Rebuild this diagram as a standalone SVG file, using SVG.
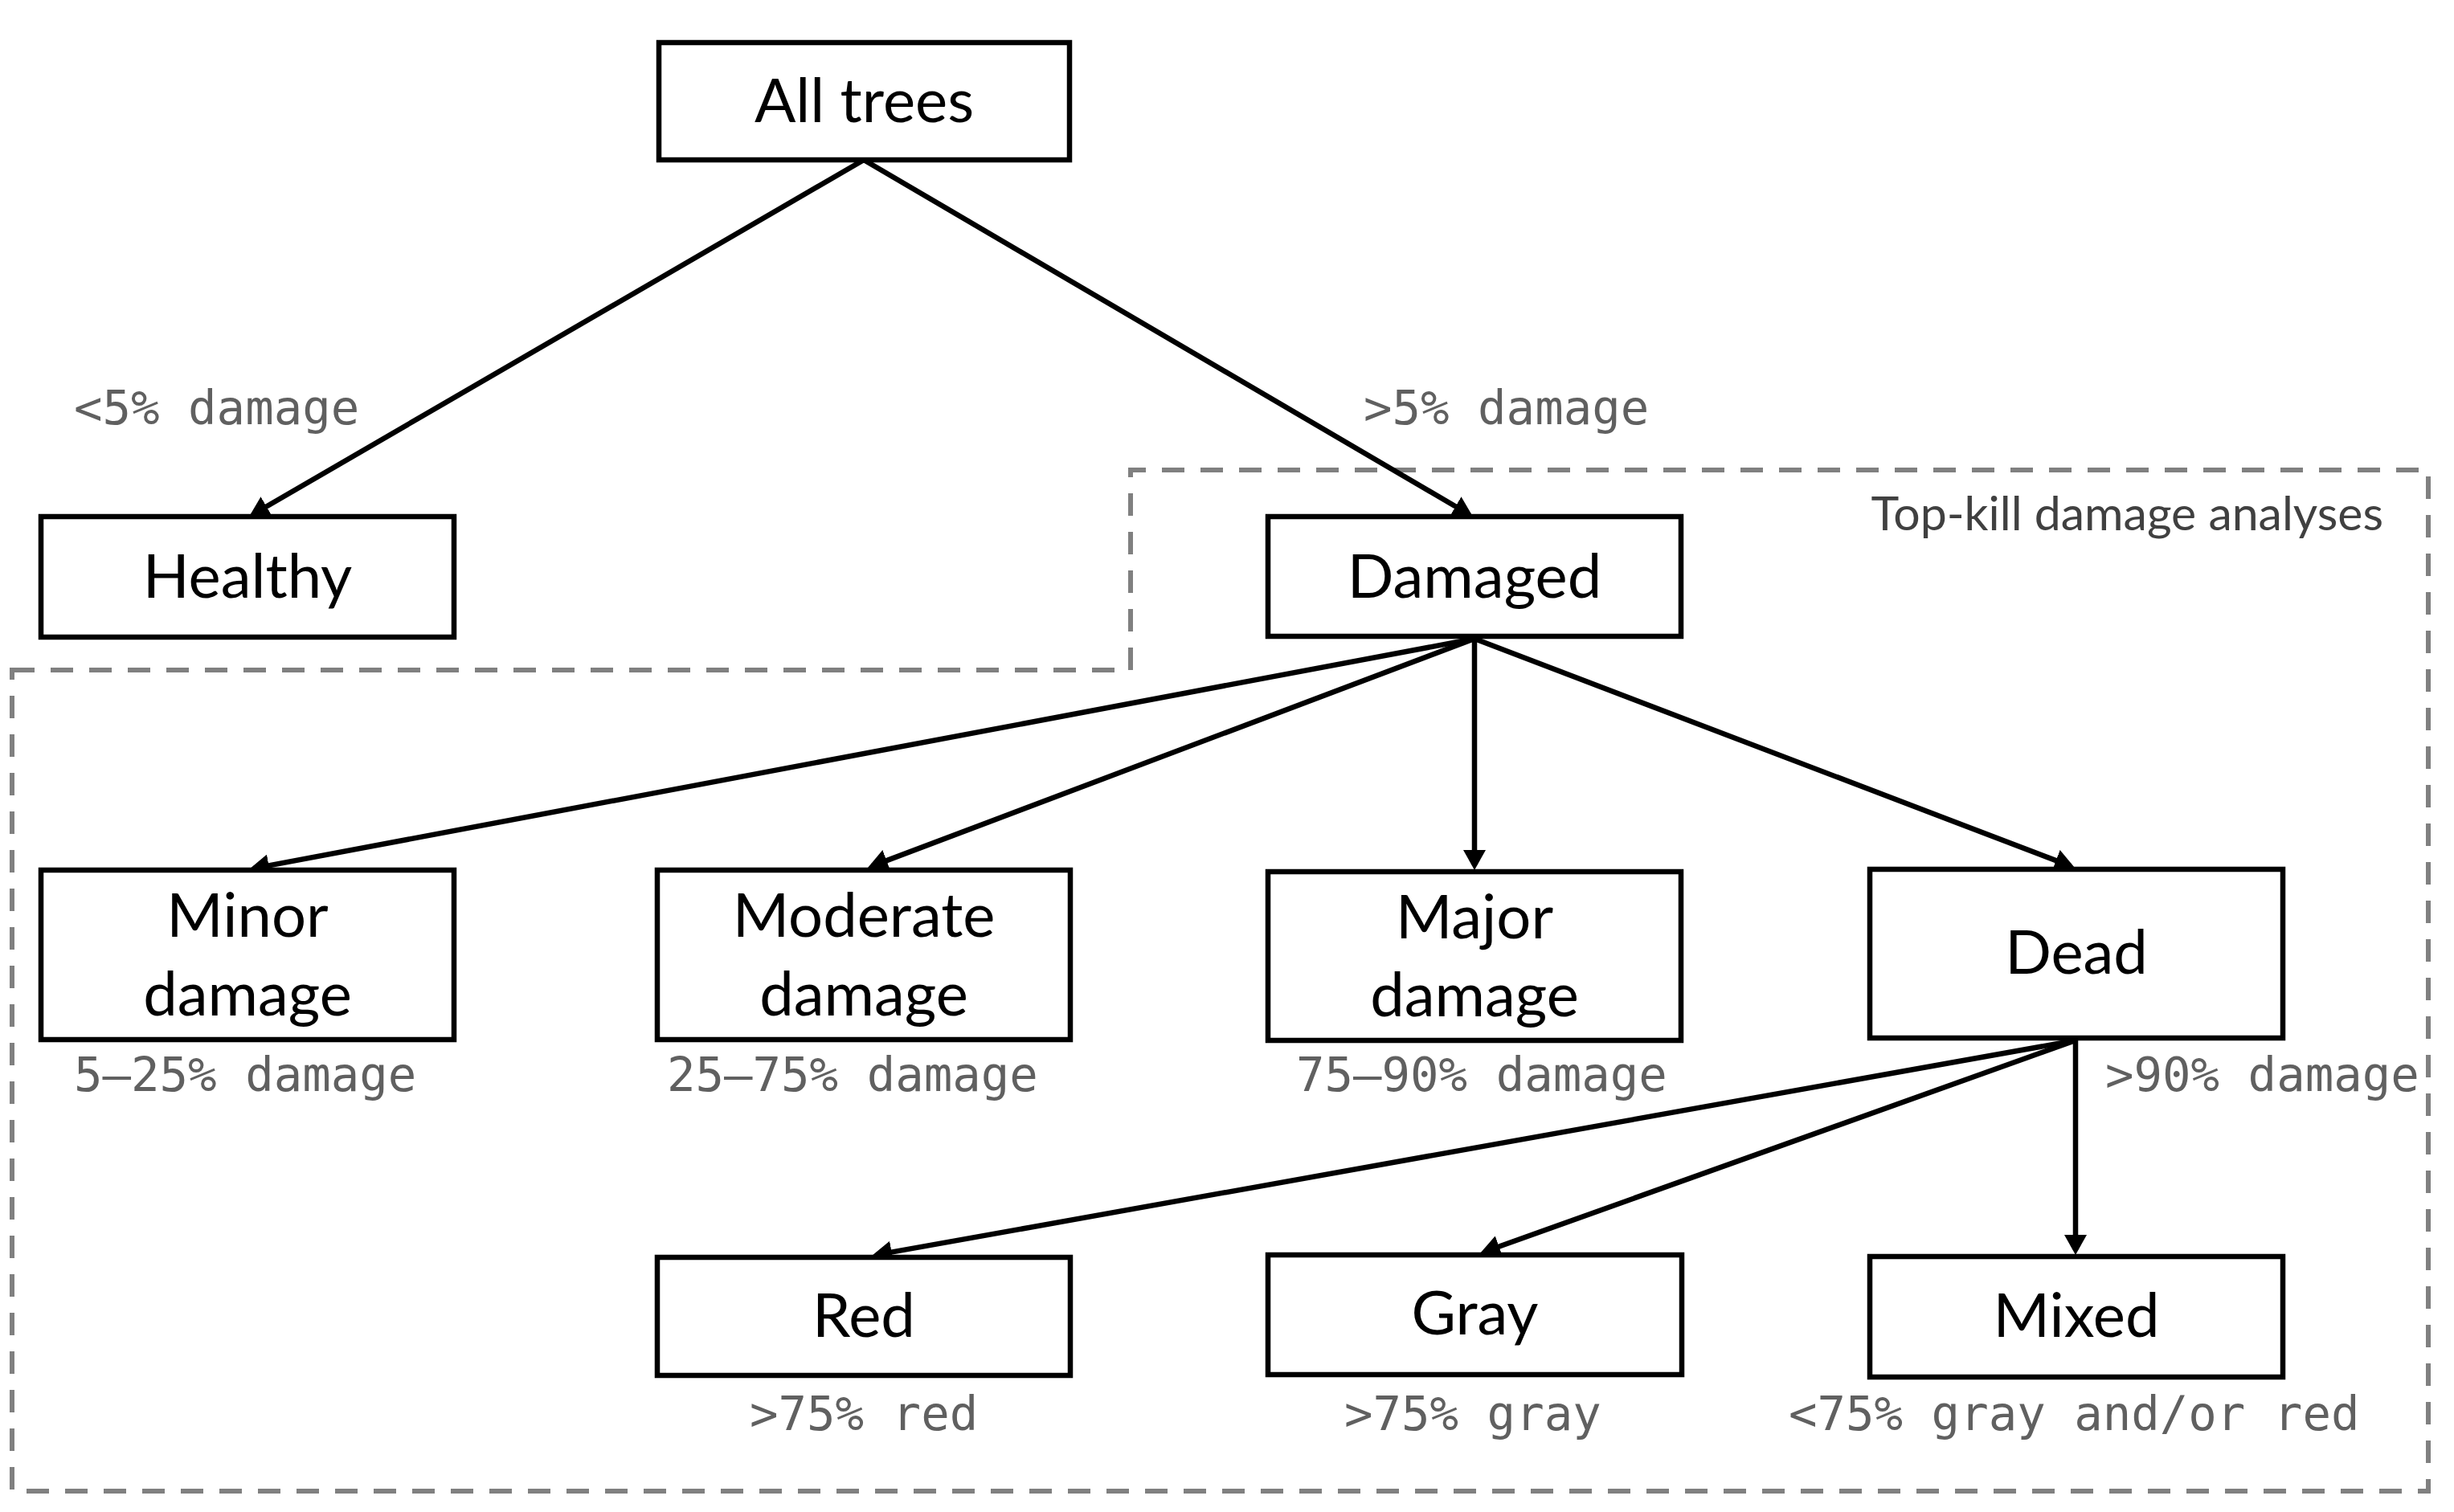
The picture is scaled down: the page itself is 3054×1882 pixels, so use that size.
<svg xmlns="http://www.w3.org/2000/svg" width="3054" height="1882" viewBox="0 0 3054 1882">
  <style>
    .box { fill: #ffffff; stroke: #000000; stroke-width: 6.5; }
    .lbl { font-family: Lato, "Open Sans", sans-serif; font-size: 76px; fill: #000000; text-anchor: middle; }
    .cond { font-family: "DejaVu Sans Mono", "Liberation Mono", monospace; font-size: 59px; fill: #606060; }
    .conn { stroke: #000000; stroke-width: 6.5; fill: none; marker-end: url(#arrow); }
    .region { fill: none; stroke: #808080; stroke-width: 6; stroke-dasharray: 28 20; }
    .title { font-family: Lato, "Open Sans", sans-serif; font-size: 59px; fill: #404040; text-anchor: end; }
  </style>
  <defs>
    <marker id="arrow" markerUnits="userSpaceOnUse" markerWidth="26" markerHeight="28" refX="19" refY="14" orient="auto">
      <path d="M0,0 L25,14 L0,28 Z" fill="#000000"/>
    </marker>
  </defs>
  <rect width="3054" height="1882" fill="#ffffff"/>

  <g id="region">
    <path class="region" d="M15,834 L1407,834 L1407,585 L3022,585 L3022,1856 L15,1856 Z"/>
    <text class="title" x="2966" y="660">Top-kill damage analyses</text>
  </g>

  <g id="connectors">
    <line class="conn" x1="1075" y1="199" x2="315.2" y2="640"/>
    <line class="conn" x1="1075" y1="199" x2="1827.8" y2="640"/>
    <line class="conn" x1="1835" y1="795" x2="315.9" y2="1080.9"/>
    <line class="conn" x1="1835" y1="795" x2="1085.6" y2="1077.9"/>
    <line class="conn" x1="1835" y1="795" x2="1835" y2="1077"/>
    <line class="conn" x1="1835" y1="795" x2="2576.4" y2="1077.9"/>
    <line class="conn" x1="2583" y1="1295" x2="1090.9" y2="1561.9"/>
    <line class="conn" x1="2583" y1="1295" x2="1847.6" y2="1558"/>
    <line class="conn" x1="2583" y1="1295" x2="2583" y2="1556"/>
  </g>

  <g id="labels">
    <text class="cond" x="92" y="528">&lt;5% damage</text>
    <text class="cond" x="1697" y="528">&gt;5% damage</text>
    <text class="cond" x="92" y="1358">5–25% damage</text>
    <text class="cond" x="830" y="1358">25–75% damage</text>
    <text class="cond" x="1613" y="1358">75–90% damage</text>
    <text class="cond" x="2620" y="1358">&gt;90% damage</text>
    <text class="cond" x="933" y="1780">&gt;75% red</text>
    <text class="cond" x="1673" y="1780">&gt;75% gray</text>
    <text class="cond" x="2226" y="1780">&lt;75% gray and/or red</text>
  </g>

  <g id="all-trees">
    <rect class="box" x="820" y="53" width="511" height="146"/>
    <text class="lbl" x="1075.5" y="152">All trees</text>
  </g>
  <g id="healthy">
    <rect class="box" x="51" y="643" width="514" height="150"/>
    <text class="lbl" x="308" y="744">Healthy</text>
  </g>
  <g id="damaged">
    <rect class="box" x="1578" y="643" width="514" height="149"/>
    <text class="lbl" x="1835" y="744">Damaged</text>
  </g>
  <g id="minor">
    <rect class="box" x="51" y="1083" width="514" height="211"/>
    <text class="lbl" x="308" y="1166">Minor</text>
    <text class="lbl" x="308" y="1264">damage</text>
  </g>
  <g id="moderate">
    <rect class="box" x="818" y="1083" width="514" height="211"/>
    <text class="lbl" x="1075" y="1166">Moderate</text>
    <text class="lbl" x="1075" y="1264">damage</text>
  </g>
  <g id="major">
    <rect class="box" x="1578" y="1085" width="514" height="210"/>
    <text class="lbl" x="1835" y="1168">Major</text>
    <text class="lbl" x="1835" y="1265">damage</text>
  </g>
  <g id="dead">
    <rect class="box" x="2327" y="1082" width="514" height="210"/>
    <text class="lbl" x="2584" y="1212">Dead</text>
  </g>
  <g id="red">
    <rect class="box" x="818" y="1565" width="514" height="147"/>
    <text class="lbl" x="1075" y="1664">Red</text>
  </g>
  <g id="gray">
    <rect class="box" x="1578" y="1562" width="515" height="149"/>
    <text class="lbl" x="1835.5" y="1661">Gray</text>
  </g>
  <g id="mixed">
    <rect class="box" x="2327" y="1564" width="514" height="150"/>
    <text class="lbl" x="2584" y="1664">Mixed</text>
  </g>
</svg>
